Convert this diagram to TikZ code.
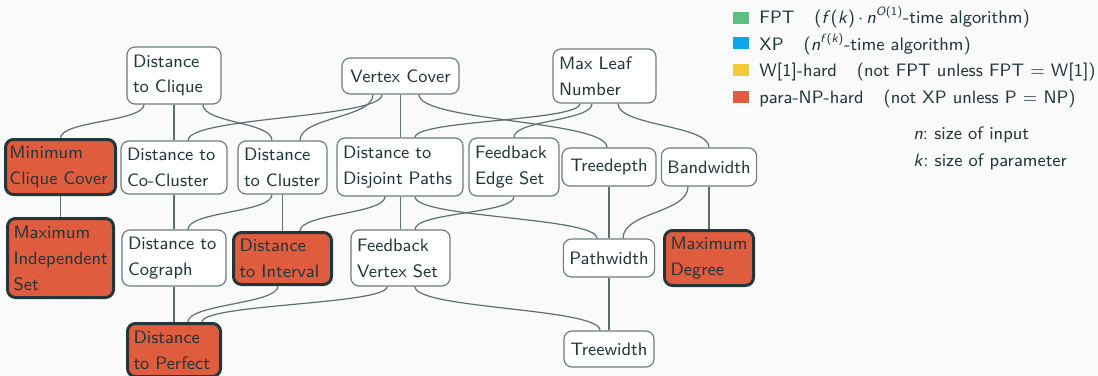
\documentclass[tikz,border=0pt]{standalone}
\usetikzlibrary{calc}
\definecolor{bg}{HTML}{FAFAFA}
\definecolor{ink}{HTML}{23373B}
\definecolor{edgec}{HTML}{5E6F72}
\definecolor{fptc}{HTML}{5FBE84}
\definecolor{xpc}{HTML}{0BA6EA}
\definecolor{wc}{HTML}{F2CB36}
\definecolor{npc}{HTML}{E05C3F}
\tikzset{
  box/.style={draw=edgec!90, line width=0.6pt, fill=white, rounded corners=4pt,
    inner xsep=3pt, inner ysep=0pt, align=left, text=ink,
    font=\sffamily\fontsize{9}{13}\selectfont},
  single/.style={box, align=center},
  hard/.style={box, fill=npc, draw=ink, line width=1.5pt},
  conn/.style={draw=edgec, line width=0.6pt},
  legsq/.style={minimum width=8pt, minimum height=6pt, inner sep=0pt, anchor=south west},
  legtxt/.style={anchor=base west, inner sep=0pt, text=ink, font=\sffamily\fontsize{9}{13}\selectfont},
}
\begin{document}
\begin{tikzpicture}[x=0.5pt,y=-0.5pt]
\fill[bg] (0,0) rectangle (1098,375);
\useasboundingbox (0,0) rectangle (1098,375);
% row 1
\node[box, text width=41pt, minimum height=28.5pt] (dc) at (174,75.5) {Distance\\to Clique};
\node[single, minimum width=58.5pt, minimum height=18pt] (vc) at (400.5,76) {Vertex Cover};
\node[box, text width=45.5pt, minimum height=27pt] (ml) at (604.5,76) {Max Leaf\\Number};
% row 2
\node[hard, inner xsep=2pt, text width=51pt, minimum height=27.5pt] (mcc) at (60.5,167) {Minimum\\\mbox{Clique Cover}};
\node[box, text width=47pt, minimum height=26.5pt] (dcc) at (174,167.5) {Distance to\\Co-Cluster};
\node[box, text width=38.5pt, minimum height=26.5pt] (dcl) at (282.5,167.5) {Distance\\\mbox{to Cluster}};
\node[box, text width=57pt, minimum height=29pt] (ddp) at (400,167) {Distance to\\Disjoint Paths};
\node[box, text width=39pt, minimum height=29pt] (fes) at (514,167) {Feedback\\Edge Set};
\node[single, minimum width=47pt, minimum height=19pt] (td) at (609,167) {Treedepth};
\node[single, minimum width=47pt, minimum height=19pt] (bw) at (709,167) {Bandwidth};
% row 3
\node[hard, text width=47pt, minimum height=39.5pt] (mis) at (60.5,258) {Maximum\\\mbox{Independent}\\Set};
\node[box, text width=46pt, minimum height=28pt] (dcg) at (174,258) {Distance to\\Cograph};
\node[hard, text width=43pt, minimum height=26pt] (di) at (282.5,258.5) {Distance\\\mbox{to Interval}};
\node[box, text width=43.5pt, minimum height=28pt] (fvs) at (400.5,258) {Feedback\\\mbox{Vertex Set}};
\node[single, minimum width=45pt, minimum height=19pt] (pw) at (609,258) {Pathwidth};
\node[hard, text width=38.5pt, minimum height=27.5pt] (md) at (709,258) {Maximum\\Degree};
% row 4
\node[hard, text width=40.5pt, minimum height=26.5pt] (dp) at (174,350) {Distance\\\mbox{to Perfect}};
\node[single, minimum width=45pt, minimum height=18pt] (tw) at (609,349) {Treewidth};
% connectors
\begin{scope}[conn]
\draw ($(dc.south)+(-30,0)$) .. controls +(0,17) and +(0,-17) .. (mcc.north);
\draw (dc.south) -- (dcc.north);
\draw ($(dc.south)+(29,0)$) .. controls +(0,18.5) and +(0,-18.5) .. ($(dcl.north)+(-10.5,0)$);
\draw ($(vc.south)+(-18.5,0)$) .. controls +(0,23.5) and +(0,-23.5) .. ($(dcc.north)+(14,0)$);
\draw ($(vc.south)+(-27.5,0)$) .. controls +(0,23.5) and +(0,-23.5) .. ($(dcl.north)+(17.5,0)$);
\draw (vc.south) -- (vc.south |- ddp.north);
\draw ($(vc.south)+(18.5,0)$) .. controls +(0,27) and +(0,-27) .. ($(td.north)+(-2,0)$);
\draw ($(ml.south)+(-24.5,0)$) .. controls +(0,17.5) and +(0,-17.5) .. ($(ddp.north)+(15,0)$);
\draw ($(ml.south)+(-12.5,0)$) .. controls +(0,17.5) and +(0,-17.5) .. (fes.north);
\draw ($(ml.south)+(13.5,0)$) .. controls +(0,22.5) and +(0,-22.5) .. (bw.north);
\draw (mcc.south) -- (mis.north);
\draw (dcc.south) -- (dcg.north);
\draw ($(dcl.south)+(-10.5,0)$) .. controls +(0,18) and +(0,-18) .. ($(dcg.north)+(14,0)$);
\draw (dcl.south) -- (di.north);
\draw ($(ddp.south)+(-15,0)$) .. controls +(0,17.5) and +(0,-17.5) .. ($(di.north)+(17.5,0)$);
\draw ($(ddp.south)+(0.5,0)$) -- (fvs.north);
\draw ($(ddp.south)+(15,0)$) .. controls +(0,21.5) and +(0,-21.5) .. ($(pw.north)+(-12,0)$);
\draw (fes.south) .. controls +(0,17) and +(0,-17) .. ($(fvs.north)+(14.5,0)$);
\draw (td.south) -- (pw.north);
\draw ($(bw.south)+(-21,0)$) .. controls +(0,26.5) and +(0,-26.5) .. ($(pw.north)+(14,0)$);
\draw (bw.south) -- (md.north);
\draw (dcg.south) -- (dp.north);
\draw ($(di.south)+(-4.5,0)$) .. controls +(0,18) and +(0,-18) .. ($(dp.north)+(14,0)$);
\draw ($(fvs.south)+(-13.5,0)$) .. controls +(0,18) and +(0,-18) .. ($(dp.north)+(28,0)$);
\draw ($(fvs.south)+(14.5,0)$) .. controls +(0,22.5) and +(0,-22.5) .. ($(tw.north)+(-9,0)$);
\draw (pw.south) -- (tw.north);
\end{scope}
% legend
\node[legsq, fill=fptc] (s1) at (733,24) {};
\node[legsq, fill=xpc] (s2) at (733,49) {};
\node[legsq, fill=wc] (s3) at (733,76) {};
\node[legsq, fill=npc] (s4) at (733,103) {};
\node[legtxt] (t1) at (759,23.5) {FPT\hspace{10pt}(\textit{f}(\textit{k})\,$\cdot$\,\textit{n}\textsuperscript{\textit{O}(1)}-time algorithm)};
\node[legtxt] (t2) at (759,50) {XP\hspace{10pt}(\textit{n}\textsuperscript{\textit{f}(\textit{k})}-time algorithm)};
\node[legtxt] (t3) at (759,76.5) {W[1]-hard\hspace{10pt}(not FPT unless FPT $=$ W[1])};
\node[legtxt] (t4) at (759,103) {para-NP-hard\hspace{10pt}(not XP unless P $=$ NP)};
\node[legtxt] (t5) at (913,139) {\textit{n}:\ size of input};
\node[legtxt] (t6) at (913,166) {\textit{k}:\ size of parameter};
\end{tikzpicture}
\end{document}
